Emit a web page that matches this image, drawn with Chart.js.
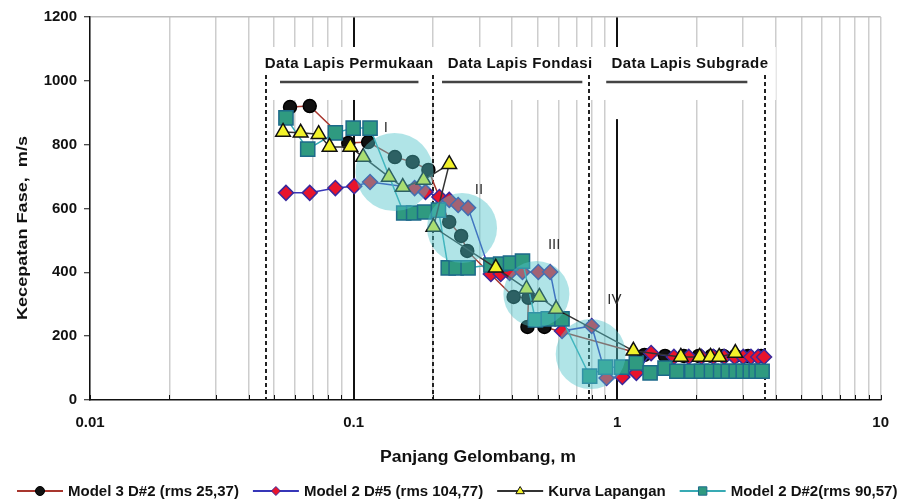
<!DOCTYPE html>
<html>
<head>
<meta charset="utf-8">
<script src="https://cdn.jsdelivr.net/npm/chart.js@4.4.1/dist/chart.umd.min.js"></script>
<style>
  html, body { margin: 0; padding: 0; background: #fff; }
  #wrap { width: 903px; height: 504px; position: relative; }
</style>
</head>
<body>
<div id="wrap"><canvas id="chart"></canvas></div>
<script>
// wavelength (m) / phase velocity (m/s) for each curve
const m3d2X = [0.0574, 0.0682, 0.0955, 0.1136, 0.1435, 0.1676, 0.1923, 0.2307, 0.256, 0.270, 0.405, 0.461, 0.457, 0.530, 1.27, 1.52, 1.79, 2.04, 2.28, 2.53, 2.81, 3.14, 3.52];
const m3d2Y = [918, 921, 805, 808, 761, 746, 721, 558, 514, 467, 323, 320, 229, 229, 141, 138, 138, 138, 138, 138, 138, 138, 138];

const m2d5X = [0.0554, 0.0682, 0.0853, 0.1006, 0.1155, 0.1705, 0.1875, 0.2117, 0.2307, 0.2494, 0.272, 0.3319, 0.3618, 0.391, 0.4375, 0.5024, 0.557, 0.618, 0.801, 0.912, 1.047, 1.183, 1.346, 1.643, 1.87, 2.09, 2.32, 2.55, 2.79, 3.01, 3.22, 3.43, 3.61];
const m2d5Y = [649, 649, 664, 670, 683, 664, 652, 636, 627, 611, 602, 395, 395, 398, 401, 401, 401, 216, 232, 69, 72, 85, 147, 135, 135, 135, 135, 135, 135, 135, 135, 135, 135];

const kurvaX = [0.054, 0.063, 0.0737, 0.0811, 0.0972, 0.1088, 0.1362, 0.1537, 0.1843, 0.2307, 0.201, 0.3465, 0.453, 0.507, 0.587, 1.153, 1.745, 2.057, 2.26, 2.44, 2.81];
const kurvaY = [840, 837, 833, 793, 793, 761, 699, 667, 689, 739, 542, 414, 348, 323, 285, 154, 135, 135, 135, 135, 147];

const m2d2X = [0.0554, 0.067, 0.0853, 0.0997, 0.1155, 0.155, 0.169, 0.186, 0.21, 0.2287, 0.245, 0.272, 0.332, 0.3615, 0.394, 0.4375, 0.49, 0.548, 0.618, 0.787, 0.904, 1.04, 1.183, 1.334, 1.52, 1.686, 1.92, 2.09, 2.28, 2.47, 2.64, 2.83, 3.01, 3.20, 3.37, 3.55];
const m2d2Y = [884, 786, 837, 852, 852, 586, 586, 589, 595, 414, 414, 414, 423, 426, 429, 435, 251, 254, 254, 75, 103, 103, 116, 85, 100, 90, 90, 90, 90, 90, 90, 90, 90, 90, 90, 90];

const seriesNames = ["Model 3 D#2 (rms 25,37)", "Model 2 D#5 (rms 104,77)", "Kurva Lapangan", "Model 2 D#2(rms 90,57)"];
const xTickLabels = ["0.01", "0.1", "1", "10"];
const yTickValues = [0, 200, 400, 600, 800, 1000, 1200];

const zoneNames = ["Data Lapis Permukaan", "Data Lapis Fondasi", "Data Lapis Subgrade"];
const zoneBounds = [0.0466, 0.2, 0.78, 3.64];
const groupNames = ["I", "II", "III", "IV"];

// annotation placement (data coordinates)
const zoneText = [0.0963, 0.4286, 1.89];
const zoneRule = [[0.0526, 0.1763], [0.2166, 0.738], [0.9093, 3.12]];
const groupText = [[0.1327, 852], [0.299, 658], [0.577, 486], [0.977, 313]];
const groupCircle = [[0.143, 714, 39], [0.258, 539, 35], [0.494, 332, 33], [0.794, 144, 35]];

// log grid positions
const xGrid = [];
[0.01, 0.1, 1].forEach(d => { for (let k = 1; k <= 9; k++) xGrid.push(+(k * d).toPrecision(3)); });
xGrid.push(10);

function pts(xs, ys) { return xs.map((v, i) => ({ x: v, y: ys[i] })); }

const styles = [
    { line: "#a8362e", fill: "#111111", edge: "#000000", shape: "circle", r: 6.5 },
    { line: "#3636b8", fill: "#e8142c", edge: "#3a2a9c", shape: "rectRot", r: 7.5 },
    { line: "#333333", fill: "#f2f22a", edge: "#111111", shape: "triangle", r: 8.5 },
    { line: "#38aab4", fill: "#2f9a80", edge: "#1d6a8a", shape: "rect", r: 10 }
];
const seriesData = [pts(m3d2X, m3d2Y), pts(m2d5X, m2d5Y), pts(kurvaX, kurvaY), pts(m2d2X, m2d2Y)];
const drawOrder = [3, 2, 0, 1];

function marker(ctx, shape, x, y, r, fill, edge) {
    ctx.beginPath();
    if (shape === "circle") ctx.arc(x, y, r, 0, Math.PI * 2);
    else if (shape === "rectRot") { ctx.moveTo(x, y - r); ctx.lineTo(x + r, y); ctx.lineTo(x, y + r); ctx.lineTo(x - r, y); ctx.closePath(); }
    else if (shape === "triangle") { ctx.moveTo(x, y - r); ctx.lineTo(x + r * 0.95, y + r * 0.6); ctx.lineTo(x - r * 0.95, y + r * 0.6); ctx.closePath(); }
    else ctx.rect(x - r * 0.7, y - r * 0.7, r * 1.4, r * 1.4);
    ctx.fillStyle = fill; ctx.fill();
    ctx.strokeStyle = edge; ctx.lineWidth = 1; ctx.stroke();
}

// draw text squeezed/stretched to a given width
function fitText(ctx, text, x, y, w) {
    const nat = ctx.measureText(text).width;
    ctx.save();
    ctx.translate(x, y);
    ctx.scale(w / nat, 1);
    ctx.fillText(text, 0, 0);
    ctx.restore();
}

const overlay = {
    id: "overlay",
    beforeDatasetsDraw(chart) {
        const { ctx, scales: { x, y } } = chart;
        ctx.save();
        // blank band behind the zone headings
        const bx0 = x.getPixelForValue(0.045), bx1 = x.getPixelForValue(4);
        const by0 = y.getPixelForValue(1106), by1 = y.getPixelForValue(940);
        ctx.fillStyle = "#fff";
        ctx.fillRect(bx0, by0, bx1 - bx0, by1 - by0);
        ctx.fillRect(x.getPixelForValue(1) - 3, by1 - 1, 6, y.getPixelForValue(880) - by1 + 1);

        // zone boundaries
        ctx.strokeStyle = "#222";
        ctx.lineWidth = 2;
        ctx.setLineDash([4, 3]);
        zoneBounds.forEach(v => {
            const px = Math.round(x.getPixelForValue(v));
            ctx.beginPath();
            ctx.moveTo(px, y.getPixelForValue(1018));
            ctx.lineTo(px, y.getPixelForValue(0));
            ctx.stroke();
        });
        ctx.setLineDash([]);

        // headings + rules
        ctx.fillStyle = "#111";
        ctx.font = "bold 15px 'Liberation Sans', Arial, sans-serif";
        ctx.letterSpacing = "0.4px";
        ctx.textAlign = "center";
        ctx.textBaseline = "middle";
        zoneNames.forEach((t, i) => {
            ctx.fillText(t, x.getPixelForValue(zoneText[i]), y.getPixelForValue(1053));
        });
        ctx.letterSpacing = "0px";
        ctx.strokeStyle = "#444";
        ctx.lineWidth = 2.5;
        zoneRule.forEach(r => {
            const py = y.getPixelForValue(996);
            ctx.beginPath();
            ctx.moveTo(x.getPixelForValue(r[0]), py);
            ctx.lineTo(x.getPixelForValue(r[1]), py);
            ctx.stroke();
        });
        ctx.restore();
    },
    afterDatasetsDraw(chart) {
        const { ctx, scales: { x, y } } = chart;
        ctx.save();
        ctx.fillStyle = "rgba(80, 196, 202, 0.45)";
        groupCircle.forEach(c => {
            ctx.beginPath();
            ctx.arc(x.getPixelForValue(c[0]), y.getPixelForValue(c[1]), c[2], 0, Math.PI * 2);
            ctx.fill();
        });
        ctx.fillStyle = "#333";
        ctx.font = "15px 'Liberation Sans', Arial, sans-serif";
        ctx.textAlign = "center";
        ctx.textBaseline = "middle";
        groupNames.forEach((t, i) => {
            ctx.fillText(t, x.getPixelForValue(groupText[i][0]), y.getPixelForValue(groupText[i][1]));
        });
        ctx.restore();
    },
    afterDraw(chart) {
        const { ctx, chartArea, scales: { x } } = chart;
        ctx.save();
        // small inner tick marks on the wavelength axis
        ctx.strokeStyle = "#111";
        ctx.lineWidth = 1;
        xGrid.forEach(v => {
            const px = Math.round(x.getPixelForValue(v)) + 0.5;
            ctx.beginPath();
            ctx.moveTo(px, chartArea.bottom);
            ctx.lineTo(px, chartArea.bottom - 5);
            ctx.stroke();
        });

        // axis titles
        ctx.fillStyle = "#111";
        ctx.font = "bold 16px 'Liberation Sans', Arial, sans-serif";
        ctx.textAlign = "left";
        ctx.textBaseline = "middle";
        fitText(ctx, "Panjang Gelombang, m", 380, 458, 196);
        ctx.save();
        ctx.translate(23, 228);
        ctx.rotate(-Math.PI / 2);
        ctx.font = "bold 15px 'Liberation Sans', Arial, sans-serif";
        fitText(ctx, "Kecepatan Fase,  m/s", -92, 0, 184);
        ctx.restore();

        // legend, laid out left to right
        const ly = 491, lineLen = 46, gap = 14;
        ctx.font = "bold 15px 'Liberation Sans', Arial, sans-serif";
        ctx.textAlign = "left";
        let cx = 17;
        seriesNames.forEach((name, i) => {
            const s = styles[i];
            ctx.strokeStyle = s.line;
            ctx.lineWidth = 2;
            ctx.beginPath();
            ctx.moveTo(cx, ly);
            ctx.lineTo(cx + lineLen, ly);
            ctx.stroke();
            marker(ctx, s.shape, cx + lineLen / 2, ly, s.shape === "rect" ? 6 : 4.5, s.fill, s.edge);
            const w = ctx.measureText(name).width;
            ctx.fillStyle = "#111";
            ctx.fillText(name, cx + lineLen + 5, ly + 1);
            cx += lineLen + 5 + w + gap;
        });
        ctx.restore();
    }
};

const ctx = document.getElementById("chart").getContext("2d");
new Chart(ctx, {
    type: "scatter",
    data: {
        datasets: seriesData.map((d, i) => ({
            label: seriesNames[i],
            data: d,
            showLine: true,
            tension: 0,
            borderColor: styles[i].line,
            borderWidth: 1.5,
            pointStyle: styles[i].shape,
            pointRadius: styles[i].r,
            pointBackgroundColor: styles[i].fill,
            pointBorderColor: styles[i].edge,
            pointBorderWidth: 1.5,
            order: drawOrder[i]
        }))
    },
    options: {
        responsive: true,
        maintainAspectRatio: false,
        animation: false,
        layout: { padding: { left: 0, right: 14, top: 17, bottom: 0 } },
        plugins: { legend: { display: false }, tooltip: { enabled: false } },
        scales: {
            x: {
                type: "logarithmic",
                min: 0.01,
                max: 10,
                afterBuildTicks: s => { s.ticks = xGrid.map(v => ({ value: v })); },
                afterFit: s => { s.height = 104; },
                border: { color: "#111", width: 1.5 },
                grid: {
                    color: c => (c.tick && (c.tick.value === 0.1 || c.tick.value === 1)) ? "#111" : "#cdcdcd",
                    lineWidth: c => (c.tick && (c.tick.value === 0.1 || c.tick.value === 1)) ? 2 : 1.5,
                    drawTicks: false
                },
                ticks: {
                    autoSkip: false,
                    maxRotation: 0,
                    padding: 14,
                    color: "#111",
                    font: { family: "'Liberation Sans', Arial, sans-serif", size: 15, weight: "bold" },
                    callback: v => xTickLabels.includes(String(v)) ? String(v) : ""
                }
            },
            y: {
                min: 0,
                max: 1200,
                afterBuildTicks: s => { s.ticks = yTickValues.map(v => ({ value: v })); },
                afterFit: s => { s.width = 90; },
                border: { color: "#111", width: 1.5 },
                grid: {
                    color: c => (c.tick && c.tick.value === 1200) ? "#bdbdbd" : "rgba(0,0,0,0)",
                    lineWidth: 1.5,
                    tickLength: 6,
                    tickColor: "#111",
                    tickWidth: 1
                },
                ticks: {
                    padding: 7,
                    color: "#111",
                    font: { family: "'Liberation Sans', Arial, sans-serif", size: 15, weight: "bold" },
                    callback: v => String(v)
                }
            }
        }
    },
    plugins: [overlay]
});
</script>
</body>
</html>
